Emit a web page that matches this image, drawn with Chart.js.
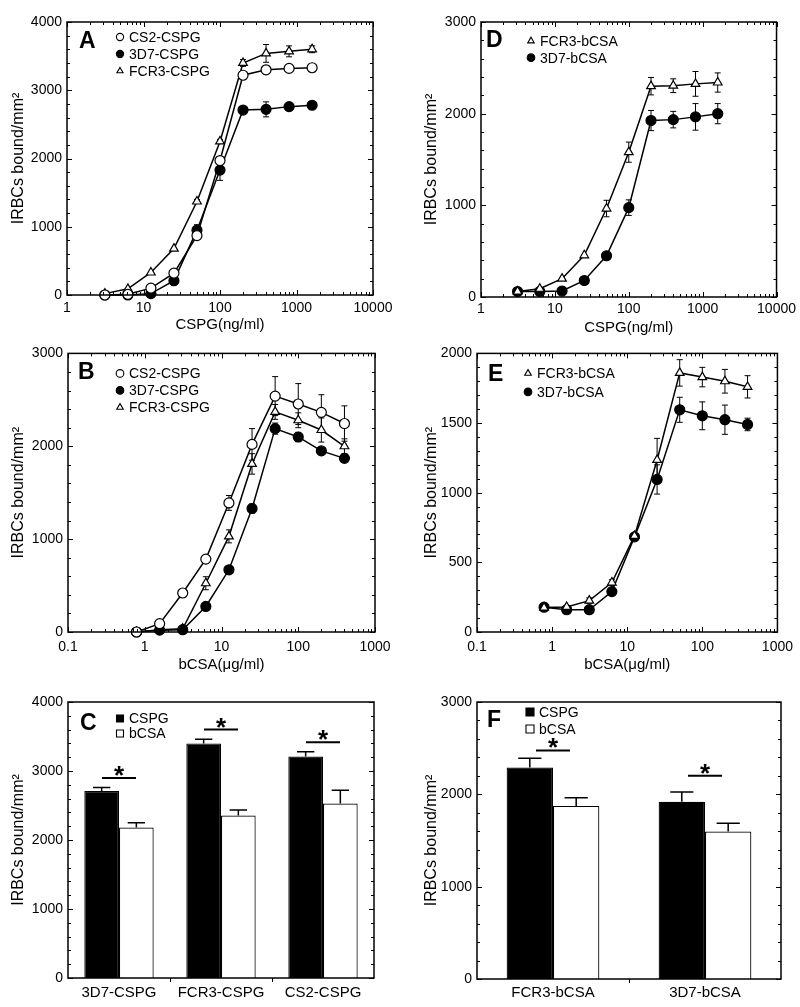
<!DOCTYPE html>
<html lang="en">
<head>
    <meta charset="UTF-8">
    <title>IRBC binding to CSPG and bCSA</title>
    <script src="https://cdn.jsdelivr.net/npm/chart.js@4.4.1/dist/chart.umd.min.js"></script>
    <style>
        body { margin: 0; background: #fff; }
        #page { position: relative; width: 800px; height: 1007px; background: #fff; overflow: hidden; }
        #page canvas { position: absolute; }
    </style>
</head>
<body>
<div id="page">
    <canvas id="chartA" width="400" height="340" style="left:0;top:0"></canvas>
    <canvas id="chartD" width="400" height="340" style="left:400px;top:0"></canvas>
    <canvas id="chartB" width="400" height="340" style="left:0;top:340px"></canvas>
    <canvas id="chartE" width="400" height="340" style="left:400px;top:340px"></canvas>
    <canvas id="chartC" width="400" height="327" style="left:0;top:680px"></canvas>
    <canvas id="chartF" width="400" height="327" style="left:400px;top:680px"></canvas>
</div>
<script>
    // doses
    const cspgDose = [3.125, 6.25, 12.5, 25, 50, 100, 200, 400, 800, 1600];
    const bcsaDose = [0.78125, 1.5625, 3.125, 6.25, 12.5, 25, 50, 100, 200, 400];

    // panel A - CSPG (ng/ml)
    const cs2CspgA = [0, 10, 100, 320, 870, 1970, 3220, 3300, 3320, 3330];
    const cs2CspgAErr = [0, 0, 0, 0, 30, 40, 40, 60, 30, 40];
    const d7CspgA = [0, 0, 20, 210, 950, 1830, 2710, 2720, 2760, 2780];
    const d7CspgAErr = [0, 0, 0, 0, 80, 150, 40, 110, 60, 40];
    const fcr3CspgA = [20, 90, 330, 680, 1370, 2250, 3400, 3540, 3570, 3600];
    const fcr3CspgAErr = [0, 0, 0, 0, 30, 30, 50, 130, 80, 50];

    // panel D - bCSA parasites on CSPG
    const fcr3BcsaD = [60, 90, 200, 455, 965, 1580, 2300, 2305, 2325, 2340];
    const fcr3BcsaDErr = [0, 0, 0, 0, 90, 110, 95, 75, 135, 105];
    const d7BcsaD = [60, 60, 65, 180, 450, 975, 1925, 1935, 1965, 2000];
    const d7BcsaDErr = [0, 0, 0, 0, 0, 85, 110, 90, 145, 110];

    // panel B - bCSA (ug/ml)
    const cs2CspgB = [0, 90, 420, 785, 1390, 2020, 2540, 2455, 2365, 2245];
    const cs2CspgBErr = [0, 0, 0, 0, 80, 170, 210, 220, 190, 190];
    const d7CspgB = [0, 20, 25, 275, 670, 1330, 2190, 2100, 1950, 1870];
    const d7CspgBErr = [0, 0, 0, 0, 0, 50, 60, 50, 40, 30];
    const fcr3CspgB = [0, 25, 35, 525, 1030, 1810, 2370, 2280, 2175, 2000];
    const fcr3CspgBErr = [0, 0, 0, 70, 70, 110, 80, 80, 130, 80];

    // panel E
    const fcr3BcsaE = [175, 180, 225, 355, 690, 1235, 1860, 1830, 1800, 1760];
    const fcr3BcsaEErr = [0, 0, 20, 20, 0, 155, 95, 70, 85, 80];
    const d7BcsaE = [178, 160, 160, 290, 683, 1095, 1595, 1552, 1524, 1490];
    const d7BcsaEErr = [0, 0, 0, 20, 0, 105, 90, 100, 105, 45];

    // panel C - bars
    const strainsC = ['3D7-CSPG', 'FCR3-CSPG', 'CS2-CSPG'];
    const cspgBarsC = [2710, 3400, 3210];
    const cspgBarsCErr = [50, 60, 70];
    const bcsaBarsC = [2180, 2355, 2530];
    const bcsaBarsCErr = [70, 80, 190];
    const sigLevelC = [2900, 3600, 3415];

    // panel F - bars
    const strainsF = ['FCR3-bCSA', '3D7-bCSA'];
    const cspgBarsF = [2290, 1920];
    const cspgBarsFErr = [100, 105];
    const bcsaBarsF = [1875, 1598];
    const bcsaBarsFErr = [87, 90];
    const sigLevelF = [2475, 2200];

    const ink = '#000';
    const fontFamily = "'Liberation Sans', Arial, Helvetica, sans-serif";
    Chart.defaults.font.family = fontFamily;
    Chart.defaults.color = ink;

    function decadeLabel(v) {
        const e = Math.log10(v);
        return Math.abs(e - Math.round(e)) < 1e-6 ? String(+v.toPrecision(6)) : '';
    }

    function drawMarker(ctx, shape, x, y, r, filled) {
        ctx.beginPath();
        if (shape === 'circle') {
            ctx.arc(x, y, r, 0, Math.PI * 2);
        } else if (shape === 'triangle') {
            for (let k = 0; k < 3; k++) {
                const a = k * 2 * Math.PI / 3;
                const px = x + Math.sin(a) * r, py = y - Math.cos(a) * r;
                if (k === 0) ctx.moveTo(px, py); else ctx.lineTo(px, py);
            }
            ctx.closePath();
        } else {
            ctx.rect(x - r, y - r, 2 * r, 2 * r);
        }
        ctx.fillStyle = filled ? ink : '#fff';
        ctx.fill();
        ctx.lineWidth = 1.1;
        ctx.strokeStyle = ink;
        ctx.stroke();
    }

    function drawErrorBars(chart, upOnly) {
        const {ctx, scales: {y}} = chart;
        ctx.save();
        ctx.strokeStyle = ink;
        ctx.lineWidth = upOnly ? 1.5 : 1;
        chart.data.datasets.forEach((ds, di) => {
            if (!ds.errorBars) return;
            chart.getDatasetMeta(di).data.forEach((el, i) => {
                const err = ds.errorBars[i];
                if (!err) return;
                const v = upOnly ? ds.data[i] : ds.data[i].y;
                const top = y.getPixelForValue(v + err);
                const bot = upOnly ? el.y : y.getPixelForValue(v - err);
                const cap = upOnly ? el.width / 4 : 3;
                ctx.beginPath();
                ctx.moveTo(el.x, top); ctx.lineTo(el.x, bot);
                ctx.moveTo(el.x - cap, top); ctx.lineTo(el.x + cap, top);
                if (!upOnly) { ctx.moveTo(el.x - cap, bot); ctx.lineTo(el.x + cap, bot); }
                ctx.stroke();
            });
        });
        ctx.restore();
    }

    function drawFrameAndTicks(chart, opts) {
        const {ctx, chartArea: a, scales: {x, y}} = chart;
        ctx.save();
        ctx.strokeStyle = ink;
        ctx.lineWidth = 1.5;
        ctx.strokeRect(a.left, a.top, a.right - a.left, a.bottom - a.top);
        ctx.lineWidth = 1;
        ctx.beginPath();
        for (let v = y.min; v <= y.max + 1e-9; v += opts.yMinor) {
            const py = Math.round(y.getPixelForValue(v)) + 0.5;
            const len = Math.abs(v % opts.yMajor) < 1e-9 ? 5 : 3;
            ctx.moveTo(a.left, py); ctx.lineTo(a.left + len, py);
            ctx.moveTo(a.right, py); ctx.lineTo(a.right - len, py);
        }
        if (x.type === 'logarithmic') {
            for (let e = Math.round(Math.log10(x.min)); Math.pow(10, e) <= x.max * 1.0001; e++) {
                for (let k = 1; k <= 9; k++) {
                    const v = k * Math.pow(10, e);
                    if (v > x.max * 1.0001) break;
                    const px = Math.round(x.getPixelForValue(v)) + 0.5;
                    const len = k === 1 ? 5 : 3;
                    ctx.moveTo(px, a.bottom); ctx.lineTo(px, a.bottom - len);
                    ctx.moveTo(px, a.top); ctx.lineTo(px, a.top + len);
                }
            }
        } else {
            const n = chart.data.labels.length;
            for (let i = 0; i < n - 1; i++) {
                const px = Math.round((x.getPixelForValue(i) + x.getPixelForValue(i + 1)) / 2) + 0.5;
                ctx.moveTo(px, a.bottom); ctx.lineTo(px, a.bottom + 4);
            }
        }
        ctx.stroke();
        ctx.restore();
    }

    function drawLegendAndLetter(chart, opts) {
        const {ctx, chartArea: a} = chart;
        const lg = opts.legend;
        ctx.save();
        chart.data.datasets.forEach((ds, i) => {
            const cx = a.left + lg.dx;
            const cy = a.top + lg.dy + i * lg.gap;
            const shape = ds.pointStyle || 'rect';
            const filled = (ds.pointBackgroundColor || ds.backgroundColor) === ink;
            drawMarker(ctx, shape, cx, cy, lg.r, filled);
            ctx.fillStyle = ink;
            ctx.font = '14px ' + fontFamily;
            ctx.textBaseline = 'middle';
            ctx.textAlign = 'left';
            ctx.fillText(ds.label, cx + 9, cy + 1);
        });
        ctx.font = 'bold 23px ' + fontFamily;
        ctx.textBaseline = 'alphabetic';
        ctx.fillStyle = ink;
        ctx.fillText(opts.letter, a.left + opts.letterDx, a.top + opts.letterDy);
        ctx.restore();
    }

    function drawSignificance(chart, sig) {
        const {ctx, scales: {x, y}} = chart;
        ctx.save();
        ctx.strokeStyle = ink;
        ctx.fillStyle = ink;
        ctx.lineWidth = 2;
        ctx.font = 'bold 26px ' + fontFamily;
        ctx.textAlign = 'center';
        ctx.textBaseline = 'alphabetic';
        sig.levels.forEach((lv, i) => {
            const cx = x.getPixelForValue(i);
            const py = y.getPixelForValue(lv);
            ctx.beginPath();
            ctx.moveTo(cx - sig.half, py); ctx.lineTo(cx + sig.half, py);
            ctx.stroke();
            ctx.fillText('*', cx, py + 6);
        });
        ctx.restore();
    }

    const decor = {
        id: 'decor',
        beforeDatasetsDraw(chart, args, opts) {
            if (!opts.bars) drawErrorBars(chart, false);
        },
        afterDatasetsDraw(chart, args, opts) {
            if (opts.bars) drawErrorBars(chart, true);
        },
        afterDraw(chart, args, opts) {
            drawFrameAndTicks(chart, opts);
            drawLegendAndLetter(chart, opts);
            if (opts.sig) drawSignificance(chart, opts.sig);
        }
    };

    function yAxis(o) {
        return {
            type: 'linear',
            min: 0,
            max: o.yMax,
            grid: { display: false, drawTicks: false },
            border: { display: false },
            ticks: { stepSize: o.yMajor, padding: 5, font: { size: 14 }, callback: v => String(v) },
            title: { display: true, text: 'IRBCs bound/mm\u00B2', font: { size: 16 }, padding: 0 },
            afterFit: s => { s.width = o.yWidth; }
        };
    }

    function lineSeries(label, xs, ys, errs, shape, filled) {
        return {
            label: label,
            data: xs.map((xv, i) => ({ x: xv, y: ys[i] })),
            errorBars: errs,
            borderColor: ink,
            borderWidth: 1.5,
            pointStyle: shape,
            pointRadius: 5,
            pointBorderWidth: 1.2,
            pointBorderColor: ink,
            pointBackgroundColor: filled ? ink : '#fff',
            tension: 0,
            clip: false
        };
    }

    function makeLineChart(id, datasets, o) {
        return new Chart(document.getElementById(id), {
            type: 'line',
            data: { datasets: datasets },
            options: {
                responsive: false,
                animation: false,
                devicePixelRatio: 1,
                layout: { padding: o.padding },
                scales: {
                    x: {
                        type: 'logarithmic',
                        min: o.xMin,
                        max: o.xMax,
                        grid: { display: false, drawTicks: false },
                        border: { display: false },
                        ticks: { autoSkip: false, maxRotation: 0, padding: o.xPad, font: { size: 14 }, callback: v => decadeLabel(v) },
                        title: { display: true, text: o.xTitle, font: { size: 15 }, padding: 0 },
                        afterFit: s => { s.height = o.xHeight; }
                    },
                    y: yAxis(o)
                },
                plugins: {
                    legend: { display: false },
                    tooltip: { enabled: false },
                    decor: { letter: o.letter, letterDx: o.letterDx, letterDy: o.letterDy, legend: o.legend, yMinor: o.yMinor, yMajor: o.yMajor }
                }
            },
            plugins: [decor]
        });
    }

    function makeBarChart(id, labels, datasets, o) {
        return new Chart(document.getElementById(id), {
            type: 'bar',
            data: { labels: labels, datasets: datasets },
            options: {
                responsive: false,
                animation: false,
                devicePixelRatio: 1,
                layout: { padding: o.padding },
                datasets: { bar: { categoryPercentage: o.catPct, barPercentage: 1 } },
                scales: {
                    x: {
                        grid: { display: false, drawTicks: false },
                        border: { display: false },
                        ticks: { padding: o.xPad, font: { size: 15 } },
                        afterFit: s => { s.height = o.xHeight; }
                    },
                    y: yAxis(o)
                },
                plugins: {
                    legend: { display: false },
                    tooltip: { enabled: false },
                    decor: { bars: true, letter: o.letter, letterDx: o.letterDx, letterDy: o.letterDy, legend: o.legend, yMinor: o.yMinor, yMajor: o.yMajor, sig: o.sig }
                }
            },
            plugins: [decor]
        });
    }

    function barSeries(label, values, errs, filled) {
        return {
            label: label,
            data: values,
            errorBars: errs,
            backgroundColor: filled ? ink : '#fff',
            borderColor: ink,
            borderWidth: 1.2,
            borderSkipped: 'bottom'
        };
    }

    makeLineChart('chartA', [
        lineSeries('CS2-CSPG', cspgDose, cs2CspgA, cs2CspgAErr, 'circle', false),
        lineSeries('3D7-CSPG', cspgDose, d7CspgA, d7CspgAErr, 'circle', true),
        lineSeries('FCR3-CSPG', cspgDose, fcr3CspgA, fcr3CspgAErr, 'triangle', false)
    ], {
        padding: { left: 9, right: 27, top: 22, bottom: 6 }, yWidth: 58, xHeight: 39, xPad: 5,
        xMin: 1, xMax: 10000, xTitle: 'CSPG(ng/ml)', yMax: 4000, yMajor: 1000, yMinor: 200,
        letter: 'A', letterDx: 12, letterDy: 26, legend: { dx: 53, dy: 15, gap: 17, r: 3.6 }
    });

    makeLineChart('chartD', [
        lineSeries('FCR3-bCSA', cspgDose, fcr3BcsaD, fcr3BcsaDErr, 'triangle', false),
        lineSeries('3D7-bCSA', cspgDose, d7BcsaD, d7BcsaDErr, 'circle', true)
    ], {
        padding: { left: 22, right: 22, top: 22, bottom: 3 }, yWidth: 59, xHeight: 40, xPad: 4,
        xMin: 1, xMax: 10000, xTitle: 'CSPG(ng/ml)', yMax: 3000, yMajor: 1000, yMinor: 200,
        letter: 'D', letterDx: 5, letterDy: 25, legend: { dx: 50, dy: 19, gap: 16.7, r: 3.8 }
    });

    makeLineChart('chartB', [
        lineSeries('CS2-CSPG', bcsaDose, cs2CspgB, cs2CspgBErr, 'circle', false),
        lineSeries('3D7-CSPG', bcsaDose, d7CspgB, d7CspgBErr, 'circle', true),
        lineSeries('FCR3-CSPG', bcsaDose, fcr3CspgB, fcr3CspgBErr, 'triangle', false)
    ], {
        padding: { left: 9, right: 25, top: 12, bottom: 6 }, yWidth: 59, xHeight: 42, xPad: 7,
        xMin: 0.1, xMax: 1000, xTitle: 'bCSA(\u03BCg/ml)', yMax: 3000, yMajor: 1000, yMinor: 200,
        letter: 'B', letterDx: 10, letterDy: 26, legend: { dx: 52, dy: 20, gap: 17, r: 3.8 }
    });

    makeLineChart('chartE', [
        lineSeries('FCR3-bCSA', bcsaDose, fcr3BcsaE, fcr3BcsaEErr, 'triangle', false),
        lineSeries('3D7-bCSA', bcsaDose, d7BcsaE, d7BcsaEErr, 'circle', true)
    ], {
        padding: { left: 22, right: 21, top: 12, bottom: 6 }, yWidth: 55, xHeight: 42, xPad: 7,
        xMin: 0.1, xMax: 1000, xTitle: 'bCSA(\u03BCg/ml)', yMax: 2000, yMajor: 500, yMinor: 100,
        letter: 'E', letterDx: 11, letterDy: 28, legend: { dx: 51, dy: 20, gap: 18.5, r: 3.8 }
    });

    makeBarChart('chartC', strainsC, [
        barSeries('CSPG', cspgBarsC, cspgBarsCErr, true),
        barSeries('bCSA', bcsaBarsC, bcsaBarsCErr, false)
    ], {
        padding: { left: 9, right: 26, top: 22, bottom: 0 }, yWidth: 59, xHeight: 29, xPad: 6,
        catPct: 0.68, yMax: 4000, yMajor: 1000, yMinor: 200,
        letter: 'C', letterDx: 12, letterDy: 28, legend: { dx: 52, dy: 16.5, gap: 15, r: 3.5 },
        sig: { levels: sigLevelC, half: 17 }
    });

    makeBarChart('chartF', strainsF, [
        barSeries('CSPG', cspgBarsF, cspgBarsFErr, true),
        barSeries('bCSA', bcsaBarsF, bcsaBarsFErr, false)
    ], {
        padding: { left: 22, right: 19, top: 22, bottom: 0 }, yWidth: 55, xHeight: 28, xPad: 5,
        catPct: 0.61, yMax: 3000, yMajor: 1000, yMinor: 200,
        letter: 'F', letterDx: 10, letterDy: 25, legend: { dx: 53, dy: 10, gap: 17, r: 4 },
        sig: { levels: sigLevelF, half: 17 }
    });
</script>
</body>
</html>
